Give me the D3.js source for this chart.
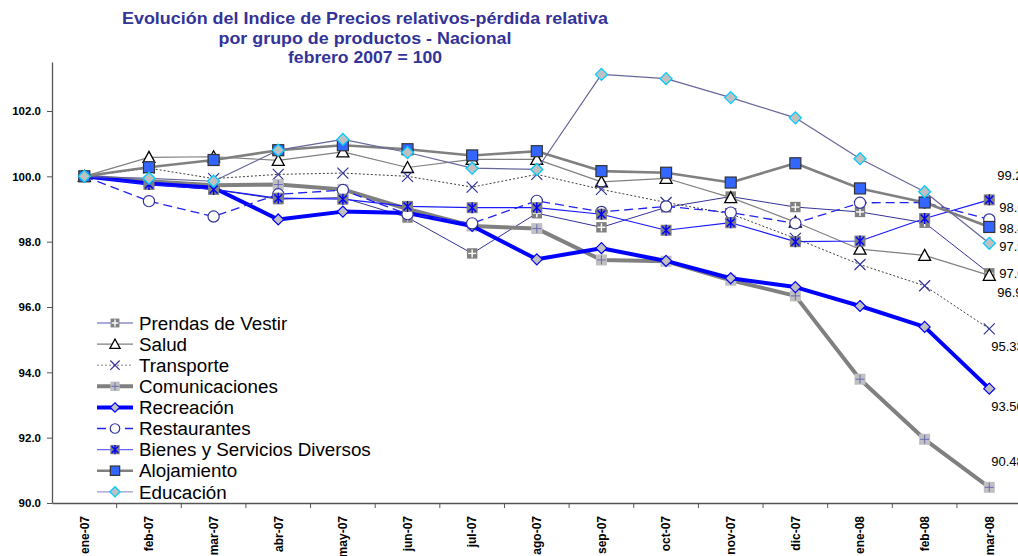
<!DOCTYPE html>
<html><head><meta charset="utf-8">
<script src="https://cdn.jsdelivr.net/npm/d3@7"></script>
<style>
body{margin:0;background:#fff}
svg{display:block;font-family:"Liberation Sans",Arial,sans-serif}
</style>
</head><body>
<svg id="c" width="1018" height="556"></svg>
<script>
// ---------- DATA ----------
const categories = ["ene-07","feb-07","mar-07","abr-07","may-07","jun-07","jul-07","ago-07","sep-07","oct-07","nov-07","dic-07","ene-08","feb-08","mar-08"];
const seriesNames = ["Prendas de Vestir","Salud","Transporte","Comunicaciones","Recreación","Restaurantes","Bienes y Servicios Diversos","Alojamiento","Educación"];
const prendas        = [100, 99.78, 99.60, 99.30, 99.35, 98.74, 97.64, 98.87, 98.44, 99.05, 99.38, 99.06, 98.91, 98.58, 97.03];
const salud          = [100, 100.58, 100.60, 100.49, 100.75, 100.27, 100.52, 100.52, 99.83, 99.94, 99.35, 98.60, 97.77, 97.58, 96.97];
const transporte     = [100, 100.25, 99.93, 100.06, 100.10, 100.00, 99.67, 100.06, 99.60, 99.20, 98.85, 98.10, 97.30, 96.65, 95.33];
const comunicaciones = [100, 99.85, 99.73, 99.75, 99.60, 99.00, 98.48, 98.40, 97.44, 97.40, 96.82, 96.34, 93.79, 91.95, 90.48];
const recreacion     = [100, 99.78, 99.65, 98.68, 98.92, 98.88, 98.48, 97.46, 97.80, 97.41, 96.88, 96.61, 96.03, 95.39, 93.50];
const restaurantes   = [100, 99.24, 98.77, 99.45, 99.58, 98.84, 98.56, 99.25, 98.91, 99.08, 98.89, 98.56, 99.19, 99.20, 98.68];
const bienes         = [100, 99.75, 99.60, 99.33, 99.30, 99.08, 99.04, 99.04, 98.84, 98.35, 98.58, 98.00, 98.02, 98.71, 99.28];
const alojamiento    = [100, 100.28, 100.50, 100.80, 100.95, 100.83, 100.64, 100.77, 100.16, 100.11, 99.81, 100.40, 99.63, 99.20, 98.45];
const educacion      = [100, 99.94, 99.85, 100.80, 101.13, 100.73, 100.25, 100.21, 103.12, 102.99, 102.41, 101.79, 100.54, 99.53, 97.95];
const endLabels      = ["97.03","96.97","95.33","90.48","93.50","98.68","99.28","98.45","97.95"];
const yTicks = [90, 92, 94, 96, 98, 100, 102];
const titleLines = ["Evolución del Indice de Precios relativos-pérdida relativa","por grupo de productos - Nacional","febrero 2007 = 100"];

// ---------- STYLES ----------
const values = [prendas, salud, transporte, comunicaciones, recreacion, restaurantes, bienes, alojamiento, educacion];
const styles = [
  {color:"#333399", width:1,   dash:null,  marker:"prendas",  legColor:"#5555bb"},
  {color:"#808080", width:1.2, dash:null,  marker:"salud"},
  {color:"#404040", width:1,   dash:"2,2", marker:"transporte", legColor:"#808080"},
  {color:"#808080", width:4,   dash:null,  marker:"comunic"},
  {color:"#0000ff", width:4,   dash:null,  marker:"recre"},
  {color:"#2222ee", width:1.3, dash:"9,5", marker:"rest"},
  {color:"#1a1aff", width:1.2, dash:null,  marker:"bienes", legColor:"#6666ff"},
  {color:"#808080", width:2.6, dash:null,  marker:"aloj"},
  {color:"#666699", width:1.2, dash:null,  marker:"educ", legColor:"#9999cc"}
];
const titleWidths = [486, 293, 154];
const labelDx = [10, 8, 2, 2, 2, 10, 8, 10, 10];
const labelDy = [0, 17, 17, -26, 18, -12, -25, 1.5, 3];

// ---------- CHART ----------
const svg = d3.select("#c");
const x = d3.scaleBand().domain(categories).range([52, 52 + 15 * 64.64]).padding(0);
const y = d3.scaleLinear().domain([90, 103.5]).range([503, 62]);
const cx = c => x(c) + x.bandwidth() / 2;

// title
svg.append("g").selectAll("text").data(titleLines).join("text")
  .attr("x", 365).attr("y", (d, i) => 24 + i * 19.5)
  .attr("text-anchor", "middle")
  .attr("font-weight", "bold").attr("font-size", 17)
  .attr("textLength", (d, i) => titleWidths[i]).attr("lengthAdjust", "spacingAndGlyphs")
  .attr("fill", "#333399")
  .text(d => d);

// y axis
const yAxis = svg.append("g").attr("transform", "translate(52,0)")
  .call(d3.axisLeft(y).tickValues(yTicks).tickFormat(d3.format(".1f")).tickSize(5).tickSizeOuter(0));
yAxis.select(".domain").attr("stroke", "#555").attr("stroke-width", 1.3);
yAxis.selectAll(".tick line").attr("stroke", "#555");
yAxis.selectAll(".tick text").attr("font-weight", "bold").attr("font-size", 11.5)
  .attr("fill", "#000").attr("x", -11).attr("font-family", "Liberation Sans, Arial, sans-serif");

// x axis
const xAxis = svg.append("g").attr("transform", "translate(0,503)")
  .call(d3.axisBottom(x).tickSize(0).tickSizeOuter(0));
xAxis.select(".domain").attr("stroke", "#555").attr("stroke-width", 1.3);
xAxis.selectAll(".tick text")
  .attr("font-weight", "bold").attr("font-size", 12).attr("fill", "#000")
  .attr("font-family", "Liberation Sans, Arial, sans-serif")
  .attr("text-anchor", "end").attr("transform", "rotate(-90)")
  .attr("x", -13).attr("y", 0).attr("dy", "0.36em");
// boundary tick marks
svg.append("g").selectAll("line").data(categories.slice(1)).join("line")
  .attr("x1", d => x(d)).attr("x2", d => x(d))
  .attr("y1", 503).attr("y2", 508).attr("stroke", "#555");

// markers
function marker(g, type, px, py, s) {
  s = s || 1;
  const h = 5.5 * s;
  switch (type) {
    case "prendas":
      g.append("rect").attr("x", px - 5.2*s).attr("y", py - 5.2*s).attr("width", 10.4*s).attr("height", 10.4*s).attr("fill", "#808080");
      g.append("line").attr("x1", px - 4*s).attr("x2", px + 4*s).attr("y1", py).attr("y2", py).attr("stroke", "#fff").attr("stroke-width", 1.4);
      g.append("line").attr("y1", py - 4*s).attr("y2", py + 4*s).attr("x1", px).attr("x2", px).attr("stroke", "#fff").attr("stroke-width", 1.4);
      break;
    case "salud":
      g.append("path").attr("d", `M${px},${py - 6*s}L${px + 6*s},${py + 5*s}L${px - 6*s},${py + 5*s}Z`)
        .attr("fill", "#fff").attr("stroke", "#000").attr("stroke-width", 1.3);
      break;
    case "transporte":
      g.append("path").attr("d", `M${px - h},${py - h}L${px + h},${py + h}M${px - h},${py + h}L${px + h},${py - h}`)
        .attr("stroke", "#333399").attr("stroke-width", 1.2).attr("fill", "none");
      break;
    case "comunic":
      g.append("rect").attr("x", px - h).attr("y", py - h).attr("width", 2*h).attr("height", 2*h).attr("fill", "#c0c0c0");
      g.append("path").attr("d", `M${px - 4.5*s},${py}L${px + 4.5*s},${py}M${px},${py - 4.5*s}L${px},${py + 4.5*s}`)
        .attr("stroke", "#6a6ab8").attr("stroke-width", 1);
      break;
    case "recre":
      g.append("path").attr("d", `M${px},${py - 5.5*s}L${px + 5.5*s},${py}L${px},${py + 5.5*s}L${px - 5.5*s},${py}Z`)
        .attr("fill", "#c0c0c0").attr("stroke", "#0000ff").attr("stroke-width", 1.2);
      break;
    case "rest":
      g.append("circle").attr("cx", px).attr("cy", py).attr("r", 5.6*s)
        .attr("fill", "#fff").attr("stroke", "#333399").attr("stroke-width", 1.2);
      break;
    case "bienes":
      g.append("rect").attr("x", px - h).attr("y", py - h).attr("width", 2*h).attr("height", 2*h).attr("fill", "#808080");
      g.append("path").attr("d", `M${px - 4*s},${py - 4*s}L${px + 4*s},${py + 4*s}M${px - 4*s},${py + 4*s}L${px + 4*s},${py - 4*s}M${px},${py - 5.5*s}L${px},${py + 5.5*s}`)
        .attr("stroke", "#0000ff").attr("stroke-width", 1.4);
      break;
    case "aloj":
      g.append("rect").attr("x", px - h).attr("y", py - h).attr("width", 2*h).attr("height", 2*h)
        .attr("fill", "#3366ff").attr("stroke", "#333").attr("stroke-width", 1.2);
      break;
    case "educ":
      g.append("path").attr("d", `M${px},${py - 6*s}L${px + 6*s},${py}L${px},${py + 6*s}L${px - 6*s},${py}Z`)
        .attr("fill", "#c0c0c0").attr("stroke", "#00ccff").attr("stroke-width", 1.3);
      break;
  }
}

// series
const line = d3.line().x((d, i) => cx(categories[i])).y(d => y(d));
values.forEach((vals, si) => {
  const st = styles[si];
  const g = svg.append("g");
  g.append("path").datum(vals).attr("d", line)
    .attr("fill", "none").attr("stroke", st.color).attr("stroke-width", st.width)
    .attr("stroke-dasharray", st.dash).attr("stroke-linejoin", "round");
  vals.forEach((v, i) => marker(g, st.marker, cx(categories[i]), y(v)));
});

// end labels (cut by the right edge, as in the reference)
svg.append("g").selectAll("text").data(endLabels).join("text")
  .attr("x", (d, i) => cx(categories[14]) + labelDx[i])
  .attr("y", (d, i) => y(values[i][14]) + labelDy[i])
  .attr("dy", "0.36em").attr("font-size", 13).attr("fill", "#000")
  .text(d => d);

// legend
const leg = svg.append("g");
seriesNames.forEach((n, i) => {
  const st = styles[i];
  const ly = 323 + i * 21.1;
  const g = leg.append("g");
  g.append("line").attr("x1", 97).attr("x2", 133).attr("y1", ly).attr("y2", ly)
    .attr("stroke", st.legColor || st.color).attr("stroke-width", st.width)
    .attr("stroke-dasharray", st.dash);
  marker(g, st.marker, 115, ly, 0.85);
  g.append("text").attr("x", 139).attr("y", ly).attr("dy", "0.36em")
    .attr("font-size", 18.8).attr("fill", "#000").text(n);
});
</script>
</body></html>
